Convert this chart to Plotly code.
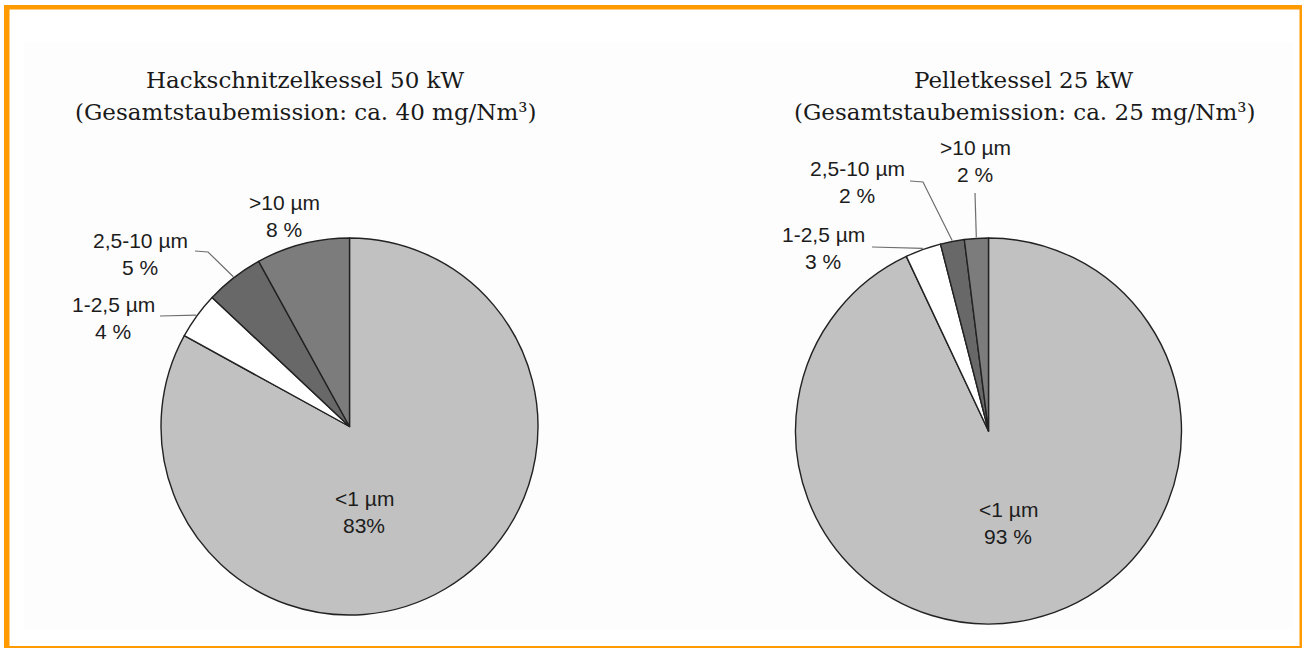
import math
import plotly.graph_objects as go

W, H = 1303, 648

# Particle size classes (clockwise from 12 o'clock)
classes = ["<1 µm", "1-2,5 µm", "2,5-10 µm", ">10 µm"]
colors = ["#c1c1c1", "#ffffff", "#686868", "#7c7c7c"]

# Share of total dust emission per class, in %
hack_values = [83, 4, 5, 8]
pellet_values = [93, 3, 2, 2]

# Gap between number and percent sign in each value label
hack_pct_sep = ["", " ", " ", " "]
pellet_pct_sep = [" ", " ", " ", " "]

hack_title = ["Hackschnitzelkessel 50 kW", "(Gesamtstaubemission: ca. 40 mg/Nm³)"]
pellet_title = ["Pelletkessel 25 kW", "(Gesamtstaubemission: ca. 25 mg/Nm³)"]

# Pie geometry in pixels: centre x, centre y, radius
hack_geo = (349.5, 426.5, 188.5)
pellet_geo = (988.5, 431.0, 193.0)

# Label placement per class: text centre x, first-line y, leader start points
hack_labels = [
    dict(x=364, y=498, leader=None),
    dict(x=113, y=304, leader=[(160, 316)]),
    dict(x=140, y=240, leader=[(195, 251), (208, 252)]),
    dict(x=284, y=202, leader=None),
]
pellet_labels = [
    dict(x=1008, y=509, leader=None),
    dict(x=823, y=234, leader=[(872, 247)]),
    dict(x=857, y=168, leader=[(910, 181), (923, 182)]),
    dict(x=975, y=147, leader=[(975, 193)]),
]
title_x = {"hack": 305, "pellet": 1024}

LABEL_FONT = dict(family="Liberation Sans, Arial", size=21, color="#1c1c1c")
TITLE_FONT = dict(family="DejaVu Serif", size=23, color="#1a1a1a")

fig = go.Figure()
shapes, annotations = [], []

# Faint panel tint behind the charts
shapes.append(dict(type="rect", x0=24, x1=1293, y0=42, y1=629,
                   fillcolor="#fdfdfd", line_width=0, layer="below"))


def add_pie(values, geo, labels, seps, title, tx):
    cx, cy, r = geo
    fig.add_trace(go.Pie(
        values=values, labels=classes, sort=False, direction="clockwise",
        rotation=0, textinfo="none", hoverinfo="label+percent",
        marker=dict(colors=colors, line=dict(color="#222222", width=1.4)),
        domain=dict(x=[(cx - r) / W, (cx + r) / W],
                    y=[1 - (cy + r) / H, 1 - (cy - r) / H]),
        showlegend=False,
    ))
    total = sum(values)
    cum = 0.0
    for i, v in enumerate(values):
        a0 = cum / total * 360
        cum += v
        a1 = cum / total * 360
        mid = math.radians((a0 + a1) / 2)
        lab = labels[i]
        annotations.append(dict(x=lab["x"], y=lab["y"], text=classes[i],
                                showarrow=False, xanchor="center", yanchor="middle",
                                font=LABEL_FONT))
        annotations.append(dict(x=lab["x"], y=lab["y"] + 27, text=f"{v}{seps[i]}%",
                                showarrow=False, xanchor="center", yanchor="middle",
                                font=LABEL_FONT))
        if lab["leader"]:
            ex = cx + (r + 1) * math.sin(mid)
            ey = cy - (r + 1) * math.cos(mid)
            pts = lab["leader"] + [(ex, ey)]
            path = "M " + " L ".join(f"{px},{py}" for px, py in pts)
            shapes.append(dict(type="path", path=path, xref="x", yref="y",
                               line=dict(color="#6e6e6e", width=1.2), layer="above"))
    for k, line in enumerate(title):
        annotations.append(dict(x=tx, y=80 + 32 * k, text=line, showarrow=False,
                                xanchor="center", yanchor="middle", font=TITLE_FONT))


add_pie(hack_values, hack_geo, hack_labels, hack_pct_sep, hack_title, title_x["hack"])
add_pie(pellet_values, pellet_geo, pellet_labels, pellet_pct_sep, pellet_title, title_x["pellet"])

# Orange frame around the figure
orange = "#ff9a00"
for x0, x1, y0, y1 in [(4, 1302, 5, 9.5), (4, 9.5, 5, 648), (1299.5, 1302, 5, 648), (4, 1302, 646, 648)]:
    shapes.append(dict(type="rect", x0=x0, x1=x1, y0=y0, y1=y1, xref="x", yref="y",
                       fillcolor=orange, line_width=0, layer="above"))

fig.update_layout(
    width=W, height=H, margin=dict(l=0, r=0, t=0, b=0),
    paper_bgcolor="white", plot_bgcolor="rgba(0,0,0,0)",
    xaxis=dict(range=[0, W], visible=False, fixedrange=True, domain=[0, 1]),
    yaxis=dict(range=[H, 0], visible=False, fixedrange=True, domain=[0, 1]),
    shapes=shapes, annotations=annotations,
)
for s in fig.layout.shapes:
    if s.xref is None:
        s.xref, s.yref = "x", "y"

fig.write_html("out.html")
